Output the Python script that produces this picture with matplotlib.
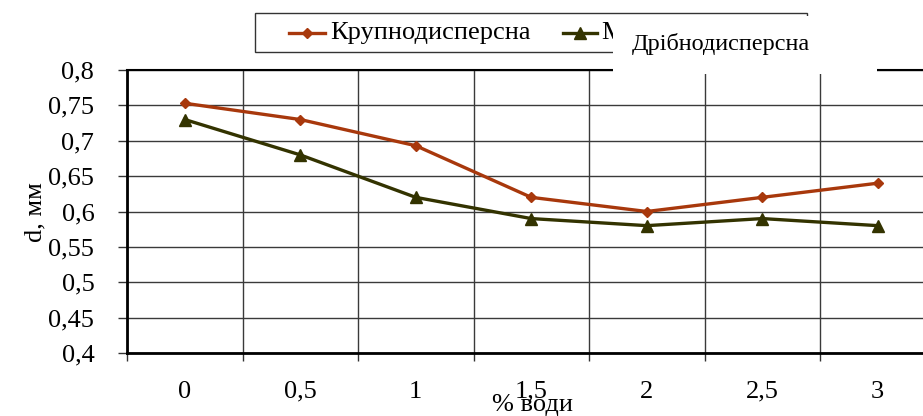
import matplotlib
matplotlib.use("Agg")
import matplotlib.pyplot as plt
from matplotlib.patches import Rectangle
from matplotlib.lines import Line2D
from matplotlib.ticker import FixedLocator

plt.rcParams['font.family'] = ['Liberation Serif', 'DejaVu Serif']

categories = ["0", "0,5", "1", "1,5", "2", "2,5", "3"]
coarse = [0.753, 0.730, 0.693, 0.620, 0.600, 0.620, 0.640]
medium = [0.730, 0.680, 0.620, 0.590, 0.580, 0.590, 0.580]
series_names = ["Крупнодисперсна", "Мілкодисперсна"]
overlay_text = "Дрібнодисперсна"
y_ticks = [0.4, 0.45, 0.5, 0.55, 0.6, 0.65, 0.7, 0.75, 0.8]

W, H = 923, 416
fig = plt.figure(figsize=(W / 100, H / 100), dpi=100)

def fx(px):
    return px / W

def fy(py):
    return 1 - py / H

ax = fig.add_axes([fx(127), fy(353), fx(935.5) - fx(127), fy(70) - fy(353)])

x = list(range(len(categories)))
brown = "#A8380C"
olive = "#333300"
styles = [dict(color=brown, lw=2.4, marker="D", ms=5.5),
          dict(color=olive, lw=2.4, marker="^", ms=8)]
ax.plot(x, coarse, zorder=3, **styles[0])
ax.plot(x, medium, zorder=3, **styles[1])

ax.set_xlim(-0.5, len(categories) - 0.5)
ax.set_ylim(0.4, 0.8)
ax.set_xticks(x)
ax.set_xticklabels(categories)
ax.xaxis.set_minor_locator(FixedLocator([i - 0.5 for i in range(len(categories) + 1)]))
ax.set_yticks(y_ticks)
ax.set_yticklabels([f"{v:g}".replace(".", ",") for v in y_ticks])

ax.tick_params(axis="x", which="major", length=0, pad=20, labelsize=19)
ax.tick_params(axis="x", which="minor", length=6, width=1, color="#333333", direction="out")
ax.tick_params(axis="y", which="major", length=6.5, width=1, color="#333333",
               direction="out", labelsize=19, pad=17)

ax.grid(True, axis="y", which="major", color="#3a3a3a", lw=1)
ax.grid(True, axis="x", which="minor", color="#3a3a3a", lw=1)
ax.set_axisbelow(True)

for side in ["left", "bottom"]:
    ax.spines[side].set_linewidth(2)
    ax.spines[side].set_color("black")
ax.spines["top"].set_linewidth(1.5)
ax.spines["right"].set_linewidth(1.5)

fig.text(fx(35), fy(212), "d, мм", fontsize=19, rotation=90, ha="center", va="center")
fig.text(fx(532), fy(405), "% води", fontsize=19, ha="center", va="center")

# legend drawn in figure pixels
fig.patches.append(Rectangle((fx(255), fy(52)), fx(807) - fx(255), fy(13) - fy(52),
                             transform=fig.transFigure, facecolor="white",
                             edgecolor="#333333", lw=1, zorder=5))
for (x0, x1, tx), name, st in zip([(289, 325, 330), (563, 597, 601)], series_names, styles):
    fig.lines.append(Line2D([fx(x0), fx((x0 + x1) / 2), fx(x1)], [fy(33)] * 3,
                            transform=fig.transFigure, markevery=[1], zorder=6, **st))
    fig.text(fx(tx), fy(33), name, fontsize=19, ha="left", va="center", zorder=6)

fig.patches.append(Rectangle((fx(613), fy(74)), fx(877) - fx(613), fy(16) - fy(74),
                             transform=fig.transFigure, facecolor="white",
                             edgecolor="none", zorder=10))
fig.text(fx(632), fy(44), overlay_text, fontsize=17.5, va="center", ha="left", zorder=11)

fig.savefig("out.png", dpi=100)
